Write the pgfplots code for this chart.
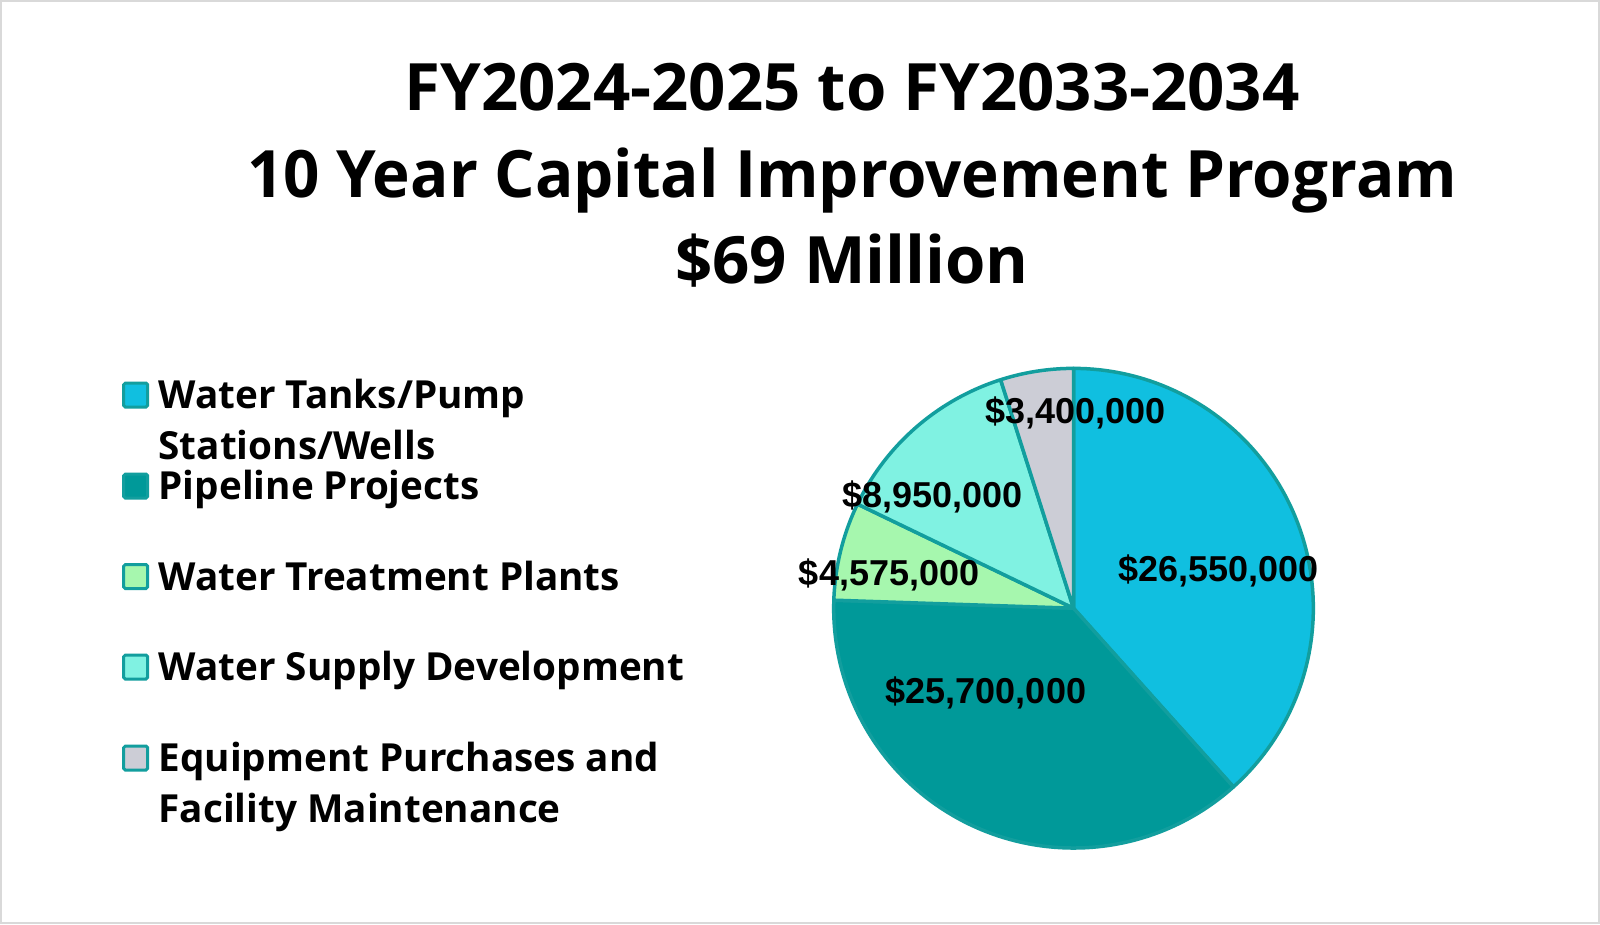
\documentclass[border=0pt]{standalone}
\usepackage{pgfplots}
\pgfplotsset{compat=1.18}
\usepackage{fontspec}
\setmainfont{Open Sans}
\newfontfamily\labelfont{Liberation Sans}
\newfontfamily\titlenarrow[FakeStretch=0.975]{Open Sans}
\definecolor{cA}{RGB}{16,191,224}
\definecolor{cB}{RGB}{0,153,153}
\definecolor{cC}{RGB}{166,247,174}
\definecolor{cD}{RGB}{128,242,226}
\definecolor{cE}{RGB}{204,205,214}
\definecolor{edge}{RGB}{18,158,158}
\definecolor{frame}{RGB}{217,217,217}
% values in millions of dollars
\def\vA{26.55}
\def\vB{25.7}
\def\vC{4.575}
\def\vD{8.95}
\def\vE{3.4}
\begin{document}
\begin{tikzpicture}[x=0.3pt,y=0.3pt]
\useasboundingbox (0,0) rectangle (1600,924);
\fill[white] (0,0) rectangle (1600,924);
\draw[frame, line width=0.6pt] (1,1) rectangle (1599,923);
% title
\begin{scope}[every node/.style={inner sep=0pt, anchor=base, font=\fontsize{19.6}{24}\selectfont\bfseries}]
\node at (852,924-110.2) {FY2024-2025 to FY2033-2034};
\node[font=\titlenarrow\fontsize{19.6}{24}\selectfont\bfseries] at (852,924-197) {10 Year Capital Improvement Program};
\node at (852,924-283.7) {\$69 Million};
\end{scope}
% legend
\begin{scope}[every node/.style={inner sep=0pt, anchor=base west, font=\fontsize{11.6}{13}\selectfont\bfseries}]
\draw[fill=cA, draw=edge, line width=0.9pt, rounded corners=0.5pt] (123.7,924-407) rectangle +(24,24);
\draw[fill=cB, draw=edge, line width=0.9pt, rounded corners=0.5pt] (123.7,924-498) rectangle +(24,24);
\draw[fill=cC, draw=edge, line width=0.9pt, rounded corners=0.5pt] (123.7,924-588.5) rectangle +(24,24);
\draw[fill=cD, draw=edge, line width=0.9pt, rounded corners=0.5pt] (123.7,924-679) rectangle +(24,24);
\draw[fill=cE, draw=edge, line width=0.9pt, rounded corners=0.5pt] (123.7,924-770) rectangle +(24,24);
\node at (158,924-408.5) {Water Tanks/Pump};
\node at (158,924-459.5) {Stations/Wells};
\node at (158,924-499.5) {Pipeline Projects};
\node at (158,924-590) {Water Treatment Plants};
\node at (158,924-680.5) {Water Supply Development};
\node at (158,924-771.5) {Equipment Purchases and};
\node at (158,924-822.5) {Facility Maintenance};
\end{scope}
\coordinate (pc) at (1073.5,315.8);
\pgfmathsetmacro{\T}{\vA+\vB+\vC+\vD+\vE}
\pgfmathsetmacro{\aA}{90-360*\vA/\T}
\pgfmathsetmacro{\aB}{\aA-360*\vB/\T}
\pgfmathsetmacro{\aC}{\aB-360*\vC/\T}
\pgfmathsetmacro{\aD}{\aC-360*\vD/\T}
\pgfmathsetmacro{\aE}{\aD-360*\vE/\T}
\begin{axis}[at={(pc)}, anchor=center, hide axis, scale only axis,
  width=143.9pt, height=143.9pt, xmin=-1, xmax=1, ymin=-1, ymax=1, clip=false,
  every axis plot/.append style={draw=edge, line width=1.05pt, line join=round, samples=90}]
\addplot[fill=cA, domain=\aA:90] ({cos(x)},{sin(x)}) -- (axis cs:0,0) -- cycle;
\addplot[fill=cB, domain=\aB:\aA] ({cos(x)},{sin(x)}) -- (axis cs:0,0) -- cycle;
\addplot[fill=cC, domain=\aC:\aB] ({cos(x)},{sin(x)}) -- (axis cs:0,0) -- cycle;
\addplot[fill=cD, domain=\aD:\aC] ({cos(x)},{sin(x)}) -- (axis cs:0,0) -- cycle;
\addplot[fill=cE, domain=\aE:\aD] ({cos(x)},{sin(x)}) -- (axis cs:0,0) -- cycle;
\begin{scope}[every node/.style={inner sep=0pt, font=\labelfont\fontsize{10.8}{12}\selectfont\bfseries}]
\node at (axis cs:0.603,0.155) {\$26,550,000};
\node at (axis cs:-0.365,-0.353) {\$25,700,000};
\node at (axis cs:-0.769,0.139) {\$4,575,000};
\node at (axis cs:-0.588,0.465) {\$8,950,000};
\node at (axis cs:0.008,0.813) {\$3,400,000};
\end{scope}
\end{axis}
\end{tikzpicture}
\end{document}
